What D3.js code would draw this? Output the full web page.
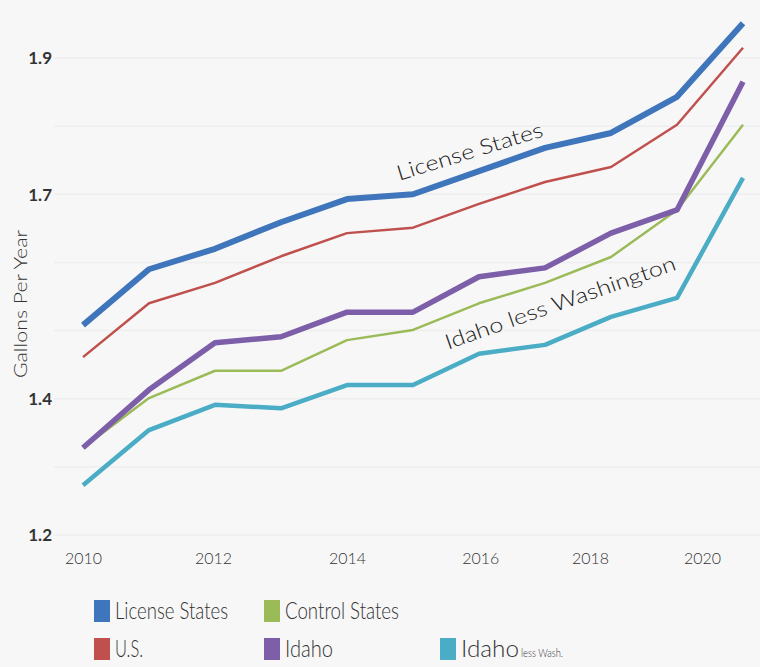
<!DOCTYPE html>
<html><head><meta charset="utf-8">
<script src="https://cdn.jsdelivr.net/npm/d3@7"></script>
<style>
html,body{margin:0;padding:0;background:#f7f7f7;}
svg{display:block;font-family:Lato,"Noto Sans",sans-serif;}
</style></head>
<body>
<svg id="chart" width="760" height="667"></svg>
<script>
// ---- data ----
const years = [2010,2011,2012,2013,2014,2015,2016,2017,2018,2019,2020];
const licenseStates = [1.508,1.590,1.620,1.659,1.693,1.700,1.734,1.768,1.790,1.843,1.951];
const us            = [1.461,1.540,1.570,1.609,1.643,1.651,1.686,1.718,1.740,1.802,1.915];
const controlStates = [1.328,1.401,1.441,1.441,1.486,1.501,1.540,1.570,1.608,1.677,1.802];
const idaho         = [1.328,1.413,1.482,1.491,1.527,1.527,1.579,1.592,1.643,1.677,1.865];
const idahoLessWash = [1.273,1.354,1.391,1.386,1.420,1.420,1.466,1.479,1.520,1.548,1.724];
const yTickValues = [1.2,1.4,1.7,1.9];
const gridValues  = [1.2,1.3,1.4,1.5,1.6,1.7,1.8,1.9];
const xTickLabels = ["2010","2012","2014","2016","2018","2020"];
const xTickAt     = [2010,2011.97,2014,2016.02,2017.68,2019.38];

const series = [
  {name:"Idaho less Wash.", values:idahoLessWash, color:"#4bacc6", width:4.5},
  {name:"Control States",   values:controlStates, color:"#9bbb59", width:2.5},
  {name:"Idaho",            values:idaho,         color:"#7c5ea9", width:5.5},
  {name:"U.S.",             values:us,            color:"#c0504d", width:2.5},
  {name:"License States",   values:licenseStates, color:"#3e75bb", width:6}
];

const svg = d3.select("#chart");
const x = d3.scaleLinear().domain([2010,2020]).range([83,743]);
const y = d3.scaleLinear().domain([1.2,1.9]).range([535,58]);

// gridlines
svg.append("g").selectAll("line").data(gridValues).join("line")
  .attr("x1",54).attr("x2",760)
  .attr("y1",d=>y(d)).attr("y2",d=>y(d))
  .attr("stroke","#eeeeee").attr("stroke-width",1.5);

// y axis labels
const yAxis = d3.axisLeft(y).tickValues(yTickValues).tickFormat(d3.format(".1f")).tickSize(0).tickPadding(0);
const gy = svg.append("g").attr("transform","translate(52,0)").call(yAxis);
gy.select(".domain").remove();
gy.selectAll("text").attr("font-size",17).attr("font-weight","bold").attr("fill","#333")
  .attr("font-family","Lato, sans-serif").attr("dy","0.35em");

// x axis labels
const xAxis = d3.axisBottom(x).tickValues(xTickAt).tickFormat((d,i)=>xTickLabels[i]).tickSize(0).tickPadding(0);
const gx = svg.append("g").attr("transform","translate(0,553)").call(xAxis);
gx.select(".domain").remove();
gx.selectAll("text").attr("font-size",16).attr("font-weight",300).attr("fill","#333")
  .attr("font-family","Lato, sans-serif").attr("dy","0.7em").attr("textLength",37).attr("lengthAdjust","spacingAndGlyphs");

// y title
svg.append("text").attr("transform","translate(27,304) rotate(-90)")
  .attr("text-anchor","middle").attr("font-size",18).attr("font-weight",300).attr("fill","#333")
  .attr("textLength",148).attr("lengthAdjust","spacingAndGlyphs")
  .text("Gallons Per Year");

// lines
const line = d3.line().x((d,i)=>x(years[i])).y(d=>y(d));
svg.append("g").selectAll("path").data(series).join("path")
  .attr("d",d=>line(d.values)).attr("fill","none")
  .attr("stroke",d=>d.color).attr("stroke-width",d=>d.width)
  .attr("stroke-linejoin","round");

// annotations
function annot(text, yr, val, angle, len){
  svg.append("text")
    .attr("transform",`translate(${x(yr)},${y(val)}) rotate(${angle})`)
    .attr("font-size",21).attr("font-weight",300).attr("fill","#222")
    .attr("textLength",len).attr("lengthAdjust","spacingAndGlyphs")
    .text(text);
}
annot("License States", 2014.79, 1.72, -17, 152);
annot("Idaho less Washington", 2015.53, 1.472, -19.3, 243);

// legend
const legendItems = [
  {label:"License States", color:"#3e75bb", col:0, row:0, w:113},
  {label:"Control States", color:"#9bbb59", col:1, row:0, w:114},
  {label:"U.S.",           color:"#c0504d", col:0, row:1, w:28},
  {label:"Idaho",          color:"#7c5ea9", col:1, row:1, w:48},
  {label:"Idaho",          color:"#4bacc6", col:2, row:1, w:58, small:"less Wash."}
];
const colX = [94,264,440], rowY = [600,638];
const lg = svg.append("g").selectAll("g").data(legendItems).join("g")
  .attr("transform",d=>`translate(${colX[d.col]},${rowY[d.row]})`);
lg.append("rect").attr("width",16).attr("height",22).attr("fill",d=>d.color);
lg.append("text").attr("x",21).attr("y",19).attr("font-size",23).attr("font-weight",300).attr("fill","#333")
  .attr("textLength",d=>d.w).attr("lengthAdjust","spacingAndGlyphs")
  .text(d=>d.label);
lg.filter(d=>d.small).append("text").attr("x",d=>21+d.w+2).attr("y",19)
  .attr("font-size",11).attr("font-weight",300).attr("fill","#333")
  .attr("textLength",42).attr("lengthAdjust","spacingAndGlyphs")
  .text(d=>d.small);
</script>
</body></html>
